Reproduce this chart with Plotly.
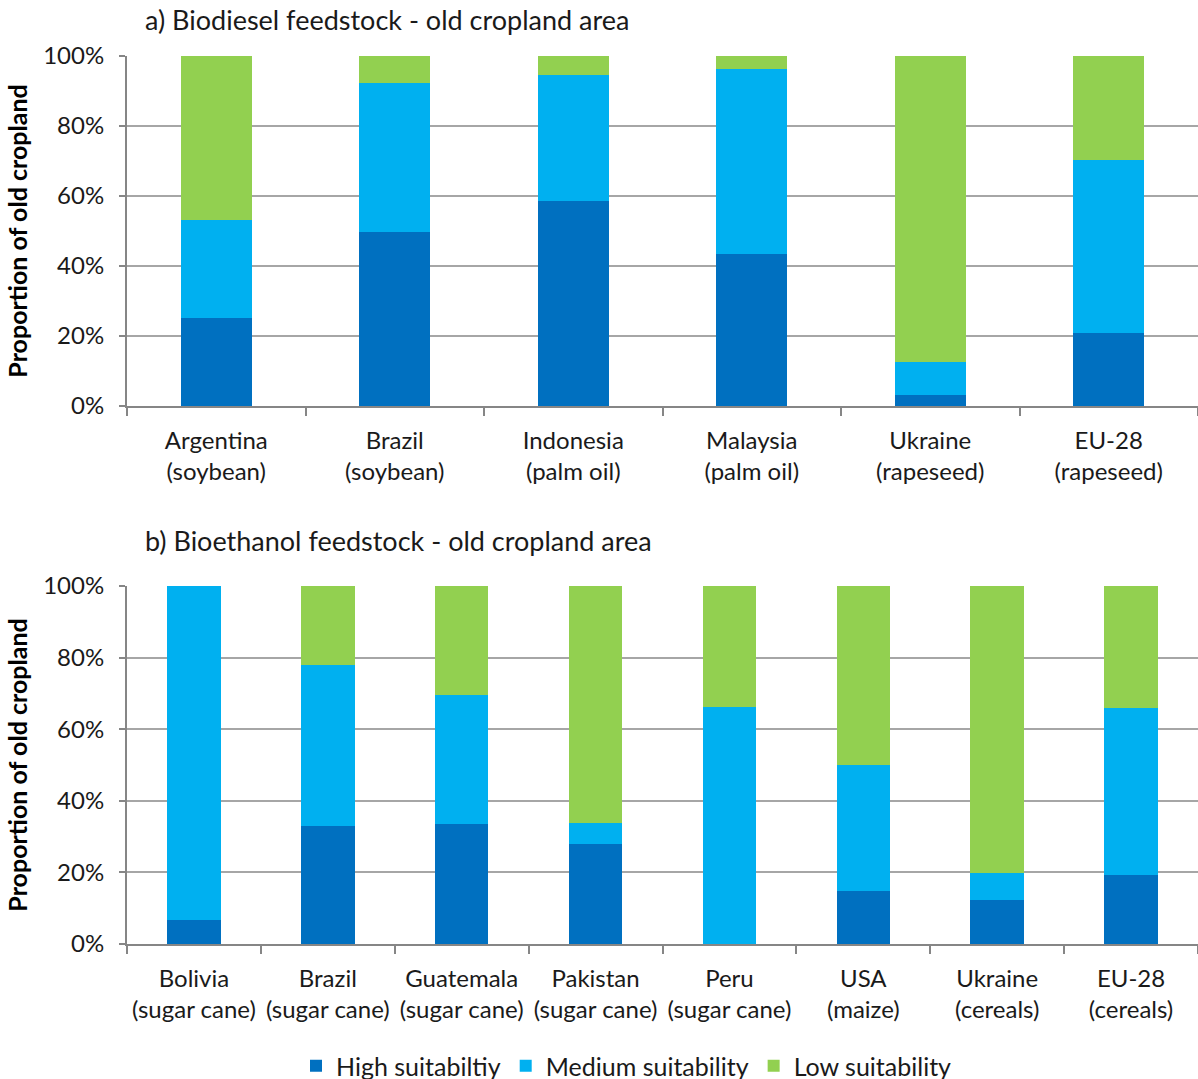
import plotly.graph_objects as go
from plotly.subplots import make_subplots

# Panel a) biodiesel feedstocks
diesel_labels = ["Argentina<br>(soybean)", "Brazil<br>(soybean)", "Indonesia<br>(palm oil)",
                 "Malaysia<br>(palm oil)", "Ukraine<br>(rapeseed)", "EU-28<br>(rapeseed)"]
diesel_high = [25.1, 49.6, 58.6, 43.4, 3.0, 20.9]
diesel_medium = [28.1, 42.6, 36.1, 52.9, 9.7, 49.4]
diesel_low = [46.8, 7.8, 5.3, 3.7, 87.3, 29.7]

# Panel b) bioethanol feedstocks
ethanol_labels = ["Bolivia<br>(sugar cane)", "Brazil<br>(sugar cane)", "Guatemala<br>(sugar cane)",
                  "Pakistan<br>(sugar cane)", "Peru<br>(sugar cane)", "USA<br>(maize)",
                  "Ukraine<br>(cereals)", "EU-28<br>(cereals)"]
ethanol_high = [6.6, 32.9, 33.4, 27.8, 0.0, 14.7, 12.2, 19.4]
ethanol_medium = [93.4, 44.9, 36.1, 6.1, 66.3, 35.2, 7.7, 46.6]
ethanol_low = [0.0, 22.2, 30.5, 66.1, 33.7, 50.1, 80.1, 34.0]

series_names = ["High suitabiltiy", "Medium suitability", "Low suitability"]
series_colors = ["#0070C0", "#00B0F0", "#92D050"]

FONT = "Lato"
TEXT = "#1a1a1a"

fig = make_subplots(rows=2, cols=1, vertical_spacing=0.0)

for name, color, vals in zip(series_names, series_colors,
                             [diesel_high, diesel_medium, diesel_low]):
    fig.add_trace(go.Bar(x=diesel_labels, y=vals, name=name, marker_color=color,
                         marker_line_width=0, legendgroup=name, showlegend=True),
                  row=1, col=1)
for name, color, vals in zip(series_names, series_colors,
                             [ethanol_high, ethanol_medium, ethanol_low]):
    fig.add_trace(go.Bar(x=ethanol_labels, y=vals, name=name, marker_color=color,
                         marker_line_width=0, legendgroup=name, showlegend=False),
                  row=2, col=1)

axis_grey = "#868686"
grid_grey = "#A6A6A6"

xaxis_style = dict(showline=True, linecolor=axis_grey, linewidth=2, ticks="outside",
                   tickson="boundaries", ticklen=8, tickwidth=2, tickcolor=axis_grey,
                   showgrid=False, tickfont=dict(family=FONT, size=24, color=TEXT),
                   ticklabelstandoff=12, domain=[0, 1])
yaxis_style = dict(range=[0, 100], tickvals=[0, 20, 40, 60, 80, 100],
                   ticktext=["0%", "20%", "40%", "60%", "80%", "100%"],
                   showline=True, linecolor=axis_grey, linewidth=2, ticks="outside",
                   ticklen=6, tickwidth=2, tickcolor=axis_grey,
                   showgrid=True, gridcolor=grid_grey, gridwidth=2,
                   tickfont=dict(family=FONT, size=24, color=TEXT),
                   ticklabelstandoff=10,
                   title=dict(text="Proportion of old cropland", standoff=8,
                              font=dict(family=FONT, size=25, color="#000000", weight="bold")),
                   zeroline=False)

fig.update_layout(
    xaxis=dict(**xaxis_style, anchor="y"),
    xaxis2=dict(**xaxis_style, anchor="y2"),
    yaxis=dict(**yaxis_style, domain=[0.6059, 1.0]),
    yaxis2=dict(**yaxis_style, domain=[0.0, 0.4032]),
)

fig.update_layout(
    barmode="stack",
    bargap=0.6,
    width=1198,
    height=1079,
    margin=dict(l=127, r=0, t=56, b=135, autoexpand=False),
    paper_bgcolor="white",
    plot_bgcolor="white",
    font=dict(family=FONT, color=TEXT),
    legend=dict(orientation="h", x=(296 - 127) / 1071, xanchor="left",
                y=(944 - 1066) / 888, yanchor="middle",
                font=dict(family=FONT, size=25, color=TEXT),
                itemwidth=30, traceorder="normal", tracegroupgap=0),
    annotations=[
        dict(text="a) Biodiesel feedstock - old cropland area", xref="paper", yref="paper",
             x=(143 - 127) / 1071, y=1 + (56 - 20) / 888, xanchor="left", yanchor="middle",
             showarrow=False, font=dict(family=FONT, size=27, color=TEXT)),
        dict(text="b) Bioethanol feedstock - old cropland area", xref="paper", yref="paper",
             x=(143 - 127) / 1071, y=(944 - 540) / 888, xanchor="left", yanchor="middle",
             showarrow=False, font=dict(family=FONT, size=27, color=TEXT)),
    ],
)

fig.write_html("out.html")
